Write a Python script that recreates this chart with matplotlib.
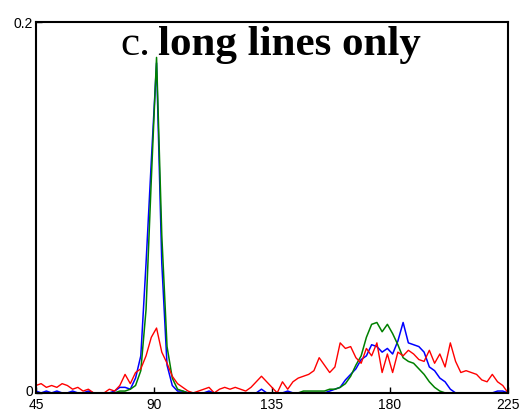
import matplotlib
matplotlib.use('Agg')
import matplotlib.pyplot as plt
import matplotlib.transforms as mtrans
import numpy as np

# orientation (deg), 2 degree bins
angles = np.arange(45, 226, 2)

red = [0.004, 0.005, 0.003, 0.004, 0.003, 0.005, 0.004, 0.002, 0.003, 0.001,
       0.002, 0.000, 0.000, 0.000, 0.002, 0.001, 0.004, 0.010, 0.005, 0.011,
       0.013, 0.020, 0.030, 0.035, 0.022, 0.016, 0.009, 0.005, 0.003, 0.001,
       0.000, 0.001, 0.002, 0.003, 0.000, 0.002, 0.003, 0.002, 0.003, 0.002,
       0.001, 0.003, 0.006, 0.009, 0.006, 0.003, 0.000, 0.006, 0.002, 0.006,
       0.008, 0.009, 0.010, 0.012, 0.019, 0.015, 0.011, 0.014, 0.027, 0.024,
       0.025, 0.019, 0.016, 0.024, 0.020, 0.027, 0.011, 0.021, 0.011, 0.022,
       0.020, 0.023, 0.021, 0.018, 0.017, 0.023, 0.016, 0.021, 0.014, 0.027,
       0.017, 0.011, 0.012, 0.011, 0.010, 0.007, 0.006, 0.010, 0.006, 0.004,
       0.000]

blue = [0.001, 0.000, 0.001, 0.000, 0.001, 0.000, 0.000, 0.001, 0.000, 0.000,
        0.001, 0.000, 0.000, 0.000, 0.000, 0.001, 0.003, 0.003, 0.002, 0.008,
        0.020, 0.070, 0.125, 0.178, 0.070, 0.015, 0.004, 0.001, 0.001, 0.000,
        0.000, 0.000, 0.000, 0.001, 0.000, 0.000, 0.000, 0.000, 0.000, 0.000,
        0.000, 0.000, 0.000, 0.002, 0.000, 0.000, 0.000, 0.000, 0.001, 0.000,
        0.000, 0.000, 0.000, 0.000, 0.000, 0.000, 0.001, 0.002, 0.003, 0.007,
        0.010, 0.013, 0.018, 0.020, 0.026, 0.025, 0.022, 0.024, 0.021, 0.028,
        0.038, 0.027, 0.026, 0.025, 0.022, 0.014, 0.012, 0.008, 0.006, 0.002,
        0.000, 0.000, 0.000, 0.000, 0.000, 0.000, 0.000, 0.000, 0.001, 0.001,
        0.000]

green = [0.000, 0.000, 0.000, 0.000, 0.000, 0.000, 0.000, 0.000, 0.000, 0.000,
         0.000, 0.000, 0.000, 0.000, 0.000, 0.000, 0.001, 0.001, 0.002, 0.004,
         0.012, 0.045, 0.115, 0.181, 0.085, 0.025, 0.008, 0.002, 0.001, 0.000,
         0.000, 0.000, 0.000, 0.000, 0.000, 0.000, 0.000, 0.000, 0.000, 0.000,
         0.000, 0.000, 0.000, 0.000, 0.000, 0.000, 0.000, 0.000, 0.000, 0.000,
         0.000, 0.001, 0.001, 0.001, 0.001, 0.001, 0.002, 0.002, 0.003, 0.005,
         0.009, 0.015, 0.020, 0.030, 0.037, 0.038, 0.033, 0.037, 0.032, 0.026,
         0.019, 0.017, 0.016, 0.013, 0.010, 0.006, 0.003, 0.001, 0.000, 0.000,
         0.000, 0.000, 0.000, 0.000, 0.000, 0.000, 0.000, 0.000, 0.000, 0.000,
         0.000]

xticks = [45, 90, 135, 180, 225]
yticks = [0, 0.2]

fig = plt.figure(figsize=(5.2, 4.11), dpi=100)
ax = fig.add_axes([0.069, 0.044, 0.908, 0.902])

ax.plot(angles, blue, color='#0000ff', lw=1.1)
ax.plot(angles, green, color='#008000', lw=1.1)
ax.plot(angles, red, color='#ff0000', lw=1.0)

ax.set_xlim(45, 225)
ax.set_ylim(0, 0.2)
ax.set_xticks(xticks)
ax.set_xticklabels([str(t) for t in xticks])
ax.set_yticks(yticks)
ax.set_yticklabels(['0', '0.2'])
ax.tick_params(direction='in', length=4, width=1, labelsize=10)
ax.tick_params(axis='x', pad=4)
ax.tick_params(axis='y', pad=2)
for lab in ax.get_xticklabels() + ax.get_yticklabels():
    lab.set_family('Liberation Sans')
# nudge the "0" label up a little so it does not touch "45"
ylab0 = ax.get_yticklabels()[0]
ylab0.set_transform(ylab0.get_transform() + mtrans.ScaledTranslation(0, 2 / 72, fig.dpi_scale_trans))
for s in ax.spines.values():
    s.set_linewidth(1.5)

ax.text(0.243, 0.911, 'c.', transform=ax.transAxes, ha='right', va='baseline',
        fontsize=31, family='Liberation Serif')
ax.text(0.258, 0.911, 'long lines only', transform=ax.transAxes, ha='left',
        va='baseline', fontsize=31, fontweight='bold', family='Liberation Serif')

fig.savefig('out.png', dpi=100)
